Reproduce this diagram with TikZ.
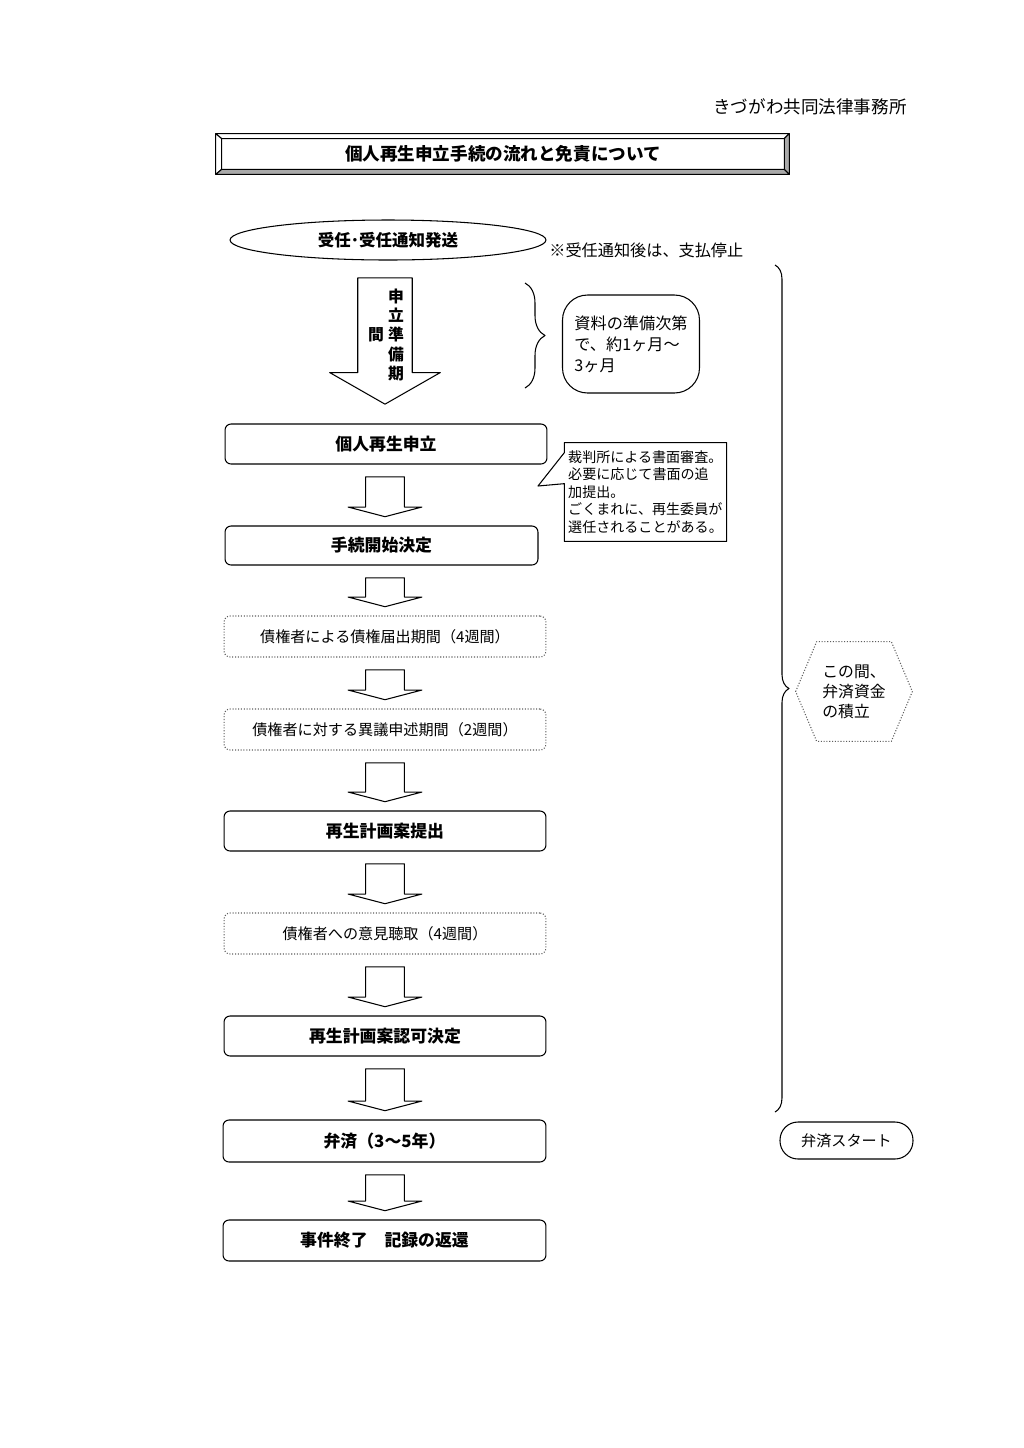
\documentclass[tikz,border=0pt]{standalone}
\usepackage{fontspec}
\usepackage{xcolor}
\usepackage{tikz}
\usetikzlibrary{calc,decorations.pathreplacing}
\newfontfamily\cjk{Noto Sans CJK JP}
\definecolor{figureink}{HTML}{000000}
\definecolor{bevelshade}{HTML}{A9A9A9}
\definecolor{dotink}{HTML}{5E5E5E}

\begin{document}
\begin{tikzpicture}[
  x=0.02cm,y=-0.02cm,
  font=\cjk,
  text=figureink,
  line join=round,
  step box/.style={
    rectangle,
    rounded corners=0.12cm,
    draw=figureink,
    line width=0.6pt,
    minimum width=6.44cm,
    minimum height=0.8cm,
    font=\cjk\bfseries\fontsize{9.6}{11}\selectfont
  },
  period box/.style={
    rectangle,
    rounded corners=0.12cm,
    draw=dotink,
    densely dotted,
    line width=0.6pt,
    minimum width=6.44cm,
    minimum height=0.82cm,
    font=\cjk\fontsize{8.6}{11}\selectfont
  },
  blk/.style={
    draw=figureink,
    fill=white,
    line width=0.6pt
  },
  memo/.style={
    align=left,
    inner sep=2pt,
    font=\cjk\fontsize{9.2}{12}\selectfont
  }
]

\path[use as bounding box,fill=white] (0,0) rectangle (1024,1448);

% ------------------------------------------------------------
% Header and title plate
% ------------------------------------------------------------

\node[anchor=east,inner sep=0pt,font=\cjk\fontsize{10}{12}\selectfont]
  (office) at (907,107) {きづがわ共同法律事務所};

\node[
  rectangle,
  minimum width=11.24cm,
  minimum height=0.6cm,
  inner sep=0pt,
  font=\cjk\bfseries\fontsize{10}{12}\selectfont
] (title) at (503,154) {};

\coordinate (plateNW) at ($(title.north west)+(-6,-5)$);
\coordinate (plateNE) at ($(title.north east)+(5,-5)$);
\coordinate (plateSW) at ($(title.south west)+(-6,5)$);
\coordinate (plateSE) at ($(title.south east)+(5,5)$);

\filldraw[fill=white,draw=figureink,line width=0.6pt]
  (plateNW) -- (plateNE) -- (title.north east) -- (title.north west) -- cycle;
\filldraw[fill=white,draw=figureink,line width=0.6pt]
  (plateNW) -- (title.north west) -- (title.south west) -- (plateSW) -- cycle;
\filldraw[fill=bevelshade,draw=figureink,line width=0.6pt]
  (plateNE) -- (plateSE) -- (title.south east) -- (title.north east) -- cycle;
\filldraw[fill=bevelshade,draw=figureink,line width=0.6pt]
  (plateSW) -- (title.south west) -- (title.south east) -- (plateSE) -- cycle;
\draw[figureink,line width=0.6pt] (title.north west) rectangle (title.south east);
\node[font=\cjk\bfseries\fontsize{10}{12}\selectfont] at (title.center)
  {個人再生申立手続の流れと免責について};

% ------------------------------------------------------------
% Retainer and preparation period
% ------------------------------------------------------------

\coordinate (spine) at (385,0);

\draw[line width=0.6pt] (388,240) ellipse [x radius=158,y radius=20];
\node[font=\cjk\bfseries\fontsize{9.4}{11}\selectfont,
  minimum width=6.34cm,minimum height=0.8cm] (accept) at (388,240)
  {受任･受任通知発送};

\node[anchor=west,inner sep=0pt,font=\cjk\fontsize{9.2}{11}\selectfont]
  (stopnote) at (549,250) {※受任通知後は、支払停止};

\node[step box] (apply) at (386,444) {個人再生申立};

\draw[blk] let \p1=(accept.south), \p2=(apply.north), \p3=(spine) in
  (\x3-15.5pt,\y1-10pt) -- (\x3+15.5pt,\y1-10pt)
  -- (\x3+15.5pt,\y2+29pt) -- (\x3+31.5pt,\y2+29pt)
  -- (\x3,\y2+11pt)
  -- (\x3-31.5pt,\y2+29pt) -- (\x3-15.5pt,\y2+29pt) -- cycle;

\node[align=center,inner sep=0pt,
  font=\cjk\bfseries\fontsize{9}{11.05}\selectfont]
  (prepcol) at (396,335) {申\\立\\準\\備\\期};
\node[inner sep=0pt,font=\cjk\bfseries\fontsize{9}{11}\selectfont]
  (prepend) at (376,335) {間};

\draw[
  decorate,
  decoration={brace,amplitude=0.4cm},
  line width=0.6pt
]
  (525,283) -- (525,388);

\node[memo,
  draw=figureink,line width=0.6pt,rounded corners=0.5cm,
  minimum width=2.74cm,minimum height=1.96cm
] (prepbox) at (631,344)
  {資料の準備次第\\で、約1ヶ月～\\3ヶ月};

% ------------------------------------------------------------
% Court review note
% ------------------------------------------------------------

\node[
  align=left,
  inner sep=2pt,
  minimum width=3.22cm,
  minimum height=1.96cm,
  font=\cjk\fontsize{8}{9.9}\selectfont
] (review) at (645.5,492)
  {裁判所による書面審査。\\必要に応じて書面の追\\加提出。\\ごくまれに、再生委員が\\選任されることがある。};

\coordinate (reviewtip) at (538,486);
\draw[line width=0.6pt]
  ($(review.north west)+(0,10)$) -- (reviewtip)
  -- ($(review.north west)+(0,41)$) -- (review.south west)
  -- (review.south east) -- (review.north east)
  -- (review.north west) -- cycle;

% ------------------------------------------------------------
% Procedure steps
% ------------------------------------------------------------

\node[step box,minimum width=6.26cm,minimum height=0.78cm]
  (start) at (381.5,545.5) {手続開始決定};
\node[period box] (claim) at (385,636.5)
  {債権者による債権届出期間（4週間）};
\node[period box] (objection) at (385,729.5)
  {債権者に対する異議申述期間（2週間）};
\node[step box] (plan) at (385,831) {再生計画案提出};
\node[period box] (hearing) at (385,933.5)
  {債権者への意見聴取（4週間）};
\node[step box] (approve) at (385,1036) {再生計画案認可決定};
\node[step box,minimum width=6.46cm,minimum height=0.84cm]
  (repay) at (384.5,1141) {弁済（3～5年）};
\node[step box,minimum width=6.46cm,minimum height=0.82cm]
  (finish) at (384.5,1240.5) {事件終了　記録の返還};

\foreach \a/\b in {apply/start,start/claim,claim/objection,
  objection/plan,plan/hearing,hearing/approve,approve/repay,repay/finish}{
  \draw[blk] let \p1=(\a.south), \p2=(\b.north), \p3=(spine) in
    (\x3-11pt,\y1-7pt) -- (\x3+11pt,\y1-7pt)
    -- (\x3+11pt,\y2+10.5pt) -- (\x3+21pt,\y2+10.5pt)
    -- (\x3,\y2+5pt)
    -- (\x3-21pt,\y2+10.5pt) -- (\x3-11pt,\y2+10.5pt) -- cycle;
}

% ------------------------------------------------------------
% Savings during the procedure
% ------------------------------------------------------------

\draw[
  decorate,
  decoration={brace,amplitude=0.28cm},
  line width=0.6pt
]
  (775,265) -- (775,1112);

\node[memo,minimum width=2.32cm,minimum height=1.98cm,
  font=\cjk\fontsize{9}{11.3}\selectfont]
  (reserve) at (854,691.5) {この間、\\弁済資金\\の積立};
\draw[draw=dotink,densely dotted,line width=0.6pt]
  (reserve.west) -- ($(reserve.north west)+(21,0)$)
  -- ($(reserve.north east)+(-21,0)$) -- (reserve.east)
  -- ($(reserve.south east)+(-21,0)$)
  -- ($(reserve.south west)+(21,0)$) -- cycle;

\node[
  rectangle,
  rounded corners=0.36cm,
  draw=figureink,
  line width=0.6pt,
  minimum width=2.66cm,
  minimum height=0.74cm,
  font=\cjk\fontsize{8.6}{11}\selectfont
] (repaystart) at (846.5,1140.5) {弁済スタート};

\end{tikzpicture}
\end{document}
